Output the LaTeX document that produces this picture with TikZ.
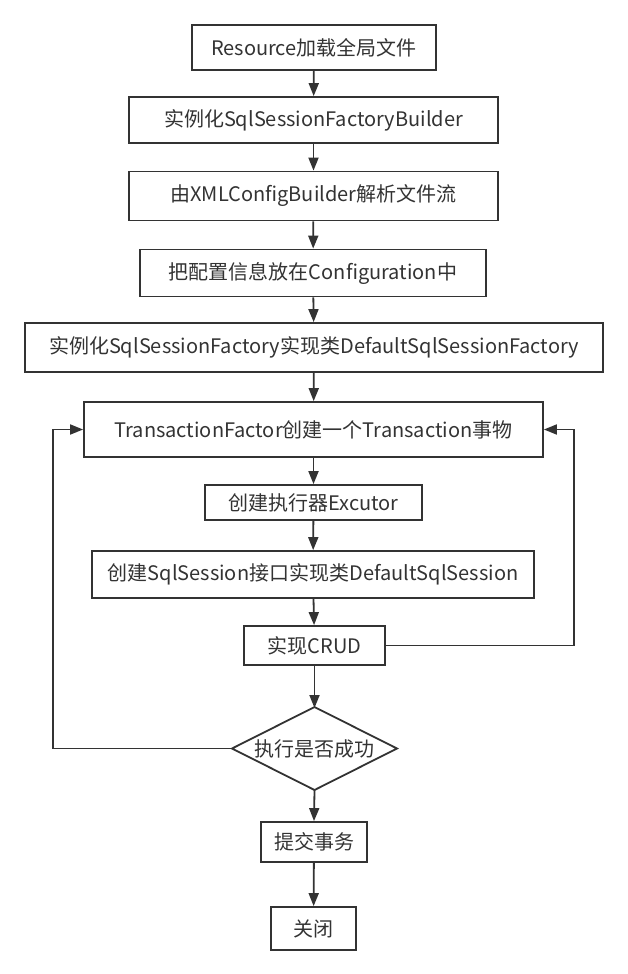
\documentclass[tikz,border=0pt]{standalone}
\usepackage{fontspec}
\setmainfont{Noto Sans CJK SC}
\usetikzlibrary{arrows.meta}
\definecolor{ln}{HTML}{333333}
\begin{document}
\begin{tikzpicture}[x=1pt,y=-1pt,
  box/.style={draw=ln,line width=1.8pt,rectangle,inner sep=0pt,text=ln,font=\fontsize{20}{24}\selectfont},
  txt/.style={text=ln,font=\fontsize{20}{24}\selectfont,inner sep=0pt},
  arr/.style={draw=ln,line width=1.8pt,-{Triangle[length=13pt,width=10pt]}}]
\useasboundingbox (0,0) rectangle (628,974);
\node[box,minimum width=244pt,minimum height=45pt] (n1) at (314,47.5) {Resource加载全局文件};
\node[box,minimum width=369pt,minimum height=46pt] (n2) at (313.5,120) {实例化SqlSessionFactoryBuilder};
\node[box,minimum width=369pt,minimum height=49pt] (n3) at (313.5,196) {由XMLConfigBuilder解析文件流};
\node[box,minimum width=346pt,minimum height=47pt] (n4) at (313,273) {把配置信息放在Configuration中};
\node[box,minimum width=578pt,minimum height=49pt] (n5) at (314,347.5) {实例化SqlSessionFactory实现类DefaultSqlSessionFactory};
\node[box,minimum width=459pt,minimum height=55pt] (n6) at (313.5,429.5) {TransactionFactor创建一个Transaction事物};
\node[box,minimum width=217pt,minimum height=35pt] (n7) at (313.5,502.5) {创建执行器Excutor};
\node[box,minimum width=442pt,minimum height=47pt] (n8) at (313,574.5) {创建SqlSession接口实现类DefaultSqlSession};
\node[box,minimum width=141pt,minimum height=39pt] (n9) at (314.5,645.5) {实现CRUD};
\coordinate (dN) at (314.5,707);
\coordinate (dS) at (314.5,790);
\coordinate (dW) at (232,748.5);
\coordinate (dE) at (397,748.5);
\draw[draw=ln,line width=1.8pt,line join=miter] (dN) -- (dE) -- (dS) -- (dW) -- cycle;
\node[txt] (d) at (314.5,748.5) {执行是否成功};
\node[box,minimum width=106pt,minimum height=40pt] (n11) at (314,842) {提交事务};
\node[box,minimum width=85pt,minimum height=43pt] (n12) at (313.5,928.5) {关闭};
\draw[arr] (n1) -- (n2);
\draw[arr] (n2) -- (n3);
\draw[arr] (n3) -- (n4);
\draw[arr] (n4) -- (n5);
\draw[arr] (n5) -- (n6);
\draw[arr] (n6) -- (n7);
\draw[arr] (n7) -- (n8);
\draw[arr] (n8) -- (n9);
\draw[arr] (n9.south) -- ([yshift=-1pt]dN);
\draw[arr] (dS) -- (n11.north);
\draw[arr] (n11) -- (n12);
\coordinate (l1) at (53,748.5);
\coordinate (l2) at (53,429.5);
\coordinate (r1) at (574,645.5);
\coordinate (r2) at (574,429.5);
\draw[arr] (dW) -- (l1) -- (l2) -- (n6.west);
\draw[arr] (n9.east) -- (r1) -- (r2) -- (n6.east);
\end{tikzpicture}
\end{document}
